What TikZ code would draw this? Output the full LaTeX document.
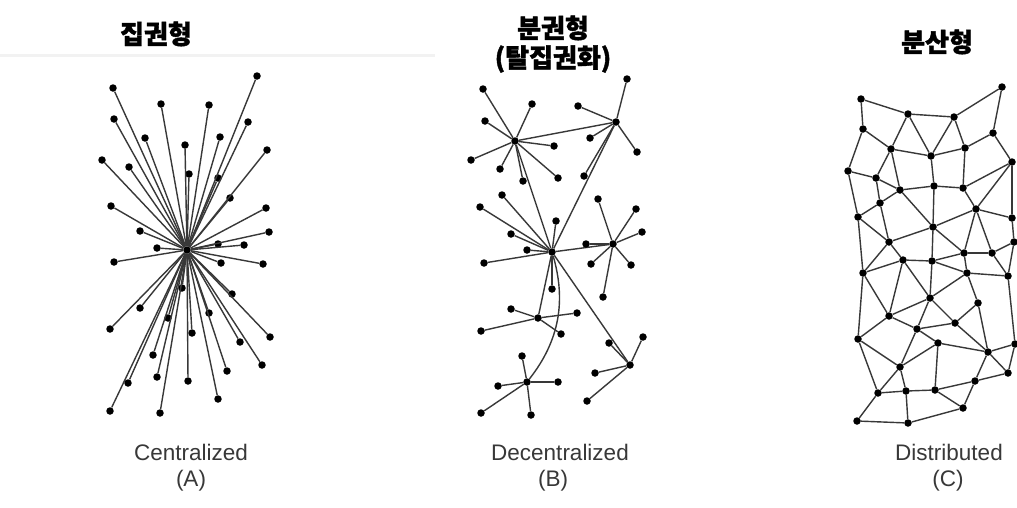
\documentclass[tikz,border=0pt]{standalone}
\usepackage{fontspec}
\setmainfont{Liberation Sans}
\newfontfamily\kr[BoldFeatures={FakeBold=1.5}]{Noto Sans CJK KR}
\tikzset{
  dot/.style={circle,fill=black,inner sep=0pt,minimum size=7.5pt},
  link/.style={draw=black!78,line width=1.4pt},
  title/.style={font=\kr\bfseries\fontsize{26}{28}\selectfont,align=center},
  caption/.style={font=\fontsize{22.5}{25}\selectfont,text=black!78,align=center}
}
\begin{document}
\begin{tikzpicture}[x=1pt,y=-1pt]
\useasboundingbox (0,0) rectangle (1017,507);
\fill[white] (0,0) rectangle (1017,507);
\draw[black!5,line width=3pt] (0,55) -- (435,55);

% ---------- titles ----------
\node[title] (tA) at (156,34) {집권형};
\node[title] (tB) at (553,28) {분권형};
\node[title] (tB2) at (553,59) {(탈집권화)};
\node[title] (tC) at (937,42) {분산형};

% ---------- captions ----------
\node[caption] (capA) at (191,452) {Centralized};
\node[caption] (capA2) at (191,481) {(A)};
\node[caption] (capB) at (560,452) {Decentralized};
\node[caption] (capB2) at (553,481) {(B)};
\node[caption] (capC) at (949,452) {Distributed};
\node[caption] (capC2) at (948,481) {(C)};

% ---------- (A) centralized ----------
\node[dot] (hA) at (187,250) {};
\foreach \n/\x/\y in {1/113/88,2/257/76,3/161/104,4/209/105,5/114/119,6/248/122,7/145/138,8/220/137,9/185/145,10/267/150,11/102/160,12/129/167,13/189/174,14/218/178,15/230/198,16/111/206,17/266/208,18/140/231,19/269/232,20/157/248,21/218/244,22/244/245,23/114/262,24/221/263,25/263/264,26/182/288,27/232/294,28/140/308,29/168/318,30/209/313,31/110/329,32/192/333,33/270/337,34/240/342,35/153/355,36/262/365,37/227/371,38/157/377,39/188/381,40/128/383,41/218/399,42/110/411,43/160/413}
  \node[dot] (a\n) at (\x,\y) {};
\foreach \n in {1,...,43} \draw[link] (hA) -- (a\n);

% ---------- (B) decentralized ----------
\foreach \n/\x/\y in {1/515/141,2/616/122,3/552/252,4/613/244,5/538/318,6/630/365,7/527/382}
  \node[dot] (h\n) at (\x,\y) {};
\draw[link] (h1) -- (h2);
\draw[link] (h1) -- (h3);
\draw[link] (h2) -- (h3);
\draw[link] (h3) -- (h4);
\draw[link] (h3) -- (h5);
\draw[link] (h3) -- (h6);
\draw[link] (h3) .. controls (566,300) and (560,340) .. (h7);
% leaves: hub/index/x/y
\foreach \h/\n/\x/\y in {1/1/483/89,1/2/532/104,1/3/485/121,1/4/554/146,1/5/471/160,1/6/500/169,1/7/558/178,1/8/523/181,
  2/1/627/79,2/2/578/106,2/3/590/138,2/4/637/152,2/5/584/176,
  3/1/511/234,3/2/480/207,3/3/502/195,3/4/556/221,3/5/527/250,3/6/484/263,3/7/552/289,
  4/1/598/199,4/2/636/209,4/3/642/232,4/4/586/244,4/5/591/264,4/6/631/265,4/7/603/297,
  5/1/511/309,5/2/577/313,5/3/481/331,5/4/561/334,
  6/1/643/337,6/2/609/343,6/3/595/373,6/4/587/401,
  7/1/522/356,7/2/498/386,7/3/558/382,7/4/481/413,7/5/531/415}
{
  \node[dot] (b\h-\n) at (\x,\y) {};
  \draw[link] (h\h) -- (b\h-\n);
}

% ---------- (C) distributed ----------
\foreach \n/\x/\y in {1/861/99,2/1002/87,3/908/114,4/954/117,5/863/129,6/993/133,7/891/149,8/931/156,9/965/148,10/1012/162,11/848/171,12/876/178,13/900/190,14/934/186,15/963/188,16/880/203,17/976/209,18/858/217,19/1012/218,20/933/227,21/889/242,22/1014/242}
  \node[dot] (c\n) at (\x,\y) {};
\foreach \n/\x/\y in {1/964/253,2/992/253,3/903/260,4/932/261,5/863/273,6/967/273,7/1008/276,8/930/298,9/978/303,10/889/316,11/955/323,12/917/329,13/858/339,14/938/343,15/1015/344,16/988/352,17/900/367,18/1008/373,19/975/381,20/878/393,21/906/391,22/935/390,23/963/408,24/857/421,25/908/423}
  \node[dot] (d\n) at (\x,\y) {};
\foreach \a/\b in {c1/c3,c3/c4,c4/c2,c2/c6,c6/c10,c1/c5,c5/c7,c5/c11,c3/c7,c3/c8,c4/c8,c4/c9,c7/c8,c8/c9,c9/c6,c7/c12,c11/c12,c9/c15,c8/c14,c7/c13,c10/c15,c10/c17,c10/c19,c12/c13,c12/c16,c11/c18,c16/c18,c13/c16,c13/c14,c14/c15,c13/c20,c14/c20,c15/c17,c17/c20,c17/c19,c19/c22,c18/c21,c16/c21,c20/c21,c17/d1,c17/d2,c21/d3,c21/d5,c18/d5,c20/d4,c20/d1,d3/d4,d4/d1,d1/d2,d2/c22,d4/d6,d1/d6,d6/d7,d2/d7,c22/d7,d5/d3,d3/d8,d3/d10,d4/d8,d5/d10,d6/d8,d6/d9,d8/d10,d8/d12,d8/d11,d9/d11,d9/d16,d7/d15,d10/d12,d10/d13,d5/d13,d12/d11,d12/d14,d12/d17,d11/d16,d14/d16,d16/d15,d16/d18,d15/d18,d16/d19,d14/d17,d14/d22,d13/d17,d13/d20,d17/d20,d17/d21,d20/d21,d21/d22,d22/d19,d19/d18,d22/d23,d19/d23,d20/d24,d21/d25,d24/d25,d25/d23}
  \draw[link] (\a) -- (\b);
\end{tikzpicture}
\end{document}
